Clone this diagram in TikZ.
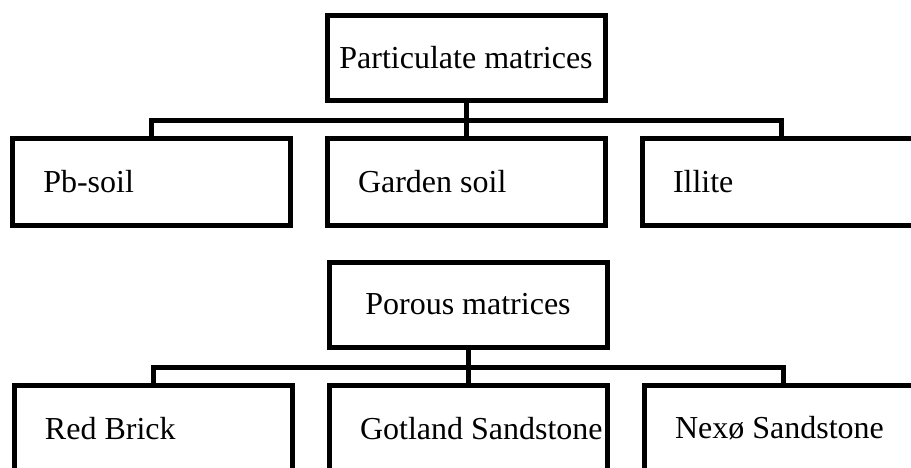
\documentclass[tikz,border=0pt]{standalone}
\usepackage{fontspec}
\setmainfont{Liberation Serif}
\begin{document}
\begin{tikzpicture}[x=0.75pt, y=-0.75pt,
	head/.style = {draw, line width=3.75pt, minimum width=208.5pt, minimum height=63.75pt, inner sep=0pt, font=\fontsize{24}{28}\selectfont},
	leaf/.style = {draw, line width=3.75pt, minimum width=208.5pt, minimum height=65.25pt, inner xsep=23.25pt, inner ysep=0pt, text width=162pt, align=flush left, font={\fontsize{24}{28}\selectfont\hyphenpenalty=10000}},
	link/.style = {line width=3.75pt}]
	
	\useasboundingbox (0,0) rectangle (911,468);
	\clip (0,0) rectangle (911,468);
	
	% particulate
	\node[head] (partic) at (466,57.5) {Particulate matrices};
	\coordinate (busA) at (466,120);
	
	\node[leaf] (pbsoil) at (151.25,181.5) {Pb-soil};
	\node[leaf] (garden) at (466,181.5) {Garden soil};
	\node[leaf] (illite) at (781,181.5) {Illite};
	
	\draw[link] (partic) -- (garden);
	\draw[link] (pbsoil.north) |- (busA) -| (illite.north);
	
	% porous
	\node[head] (porous) at (468,304.5) {Porous matrices};
	\coordinate (busB) at (468,367);
	
	\node[leaf] (brick) at (153,428.5) {Red Brick};
	\node[leaf] (gotland) at (468,428.5) {\mbox{Gotland Sandstone}};
	\node[leaf] (nexo) at (783,428.5) {Nexø Sandstone};
	
	\draw[link] (porous) -- (gotland);
	\draw[link] (brick.north) |- (busB) -| (nexo.north);
	
\end{tikzpicture}
\end{document}
